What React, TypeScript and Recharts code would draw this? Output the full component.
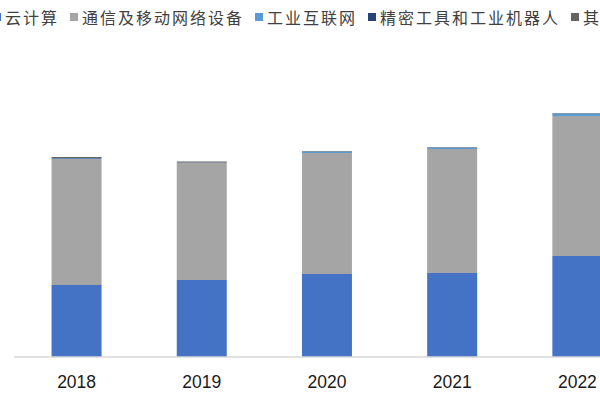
import React from "react";
import { BarChart, Bar, XAxis, YAxis } from "recharts";

const years = ["2018", "2019", "2020", "2021", "2022"];
const seriesNames = ["云计算", "通信及移动网络设备", "工业互联网", "精密工具和工业机器人", "其他"];
const seriesKeys = ["cloud", "comm", "iiot", "robot", "other"];
const seriesColors = ["#4472C4", "#A5A5A5", "#5B9BD5", "#264478", "#636363"];

const cloud = [72, 77, 83, 84, 101];
const comm = [126, 117, 121, 124, 140];
const iiot = [0.5, 0.3, 1.5, 1.5, 2.5];
const robot = [0.5, 0.3, 0.3, 0.3, 0.3];
const other = [1, 0.8, 0.3, 0.3, 0.3];

const data = years.map((y, i) => ({
  year: y,
  cloud: cloud[i],
  comm: comm[i],
  iiot: iiot[i],
  robot: robot[i],
  other: other[i],
}));

export default function App() {
  return (
    <div
      style={{
        position: "fixed",
        left: 0,
        top: 0,
        width: 600,
        height: 400,
        overflow: "hidden",
        background: "#fff",
      }}
    >
      <div
        style={{
          position: "absolute",
          left: -7,
          top: 7,
          display: "flex",
          alignItems: "center",
          whiteSpace: "nowrap",
          fontFamily: "'Noto Sans CJK SC', sans-serif",
          fontSize: 16,
          letterSpacing: 2,
          color: "#404040",
          lineHeight: "20px",
        }}
      >
        {seriesNames.map((n, i) => (
          <div key={n} style={{ display: "flex", alignItems: "center", marginRight: 11 }}>
            <span
              style={{
                display: "inline-block",
                width: 8,
                height: 8,
                background: seriesColors[i],
                marginRight: 4,
              }}
            />
            <span>{n}</span>
          </div>
        ))}
      </div>
      <BarChart
        width={640}
        height={400}
        data={data}
        margin={{ top: 107, right: 0, bottom: 0, left: 14 }}
        barCategoryGap="30%"
      >
        <XAxis
          dataKey="year"
          height={43}
          axisLine={{ stroke: "#D9D9D9", strokeWidth: 1.5 }}
          tickLine={false}
          tickSize={0}
          tickMargin={19}
          tick={{ fill: "#1a1a1a", fontSize: 17.5, fontFamily: "'Liberation Sans', Arial, sans-serif" }}
        />
        <YAxis hide domain={[0, 250]} />
        {seriesKeys.map((k, i) => (
          <Bar
            key={k}
            dataKey={k}
            stackId="a"
            fill={seriesColors[i]}
            isAnimationActive={false}
          />
        ))}
      </BarChart>
    </div>
  );
}
